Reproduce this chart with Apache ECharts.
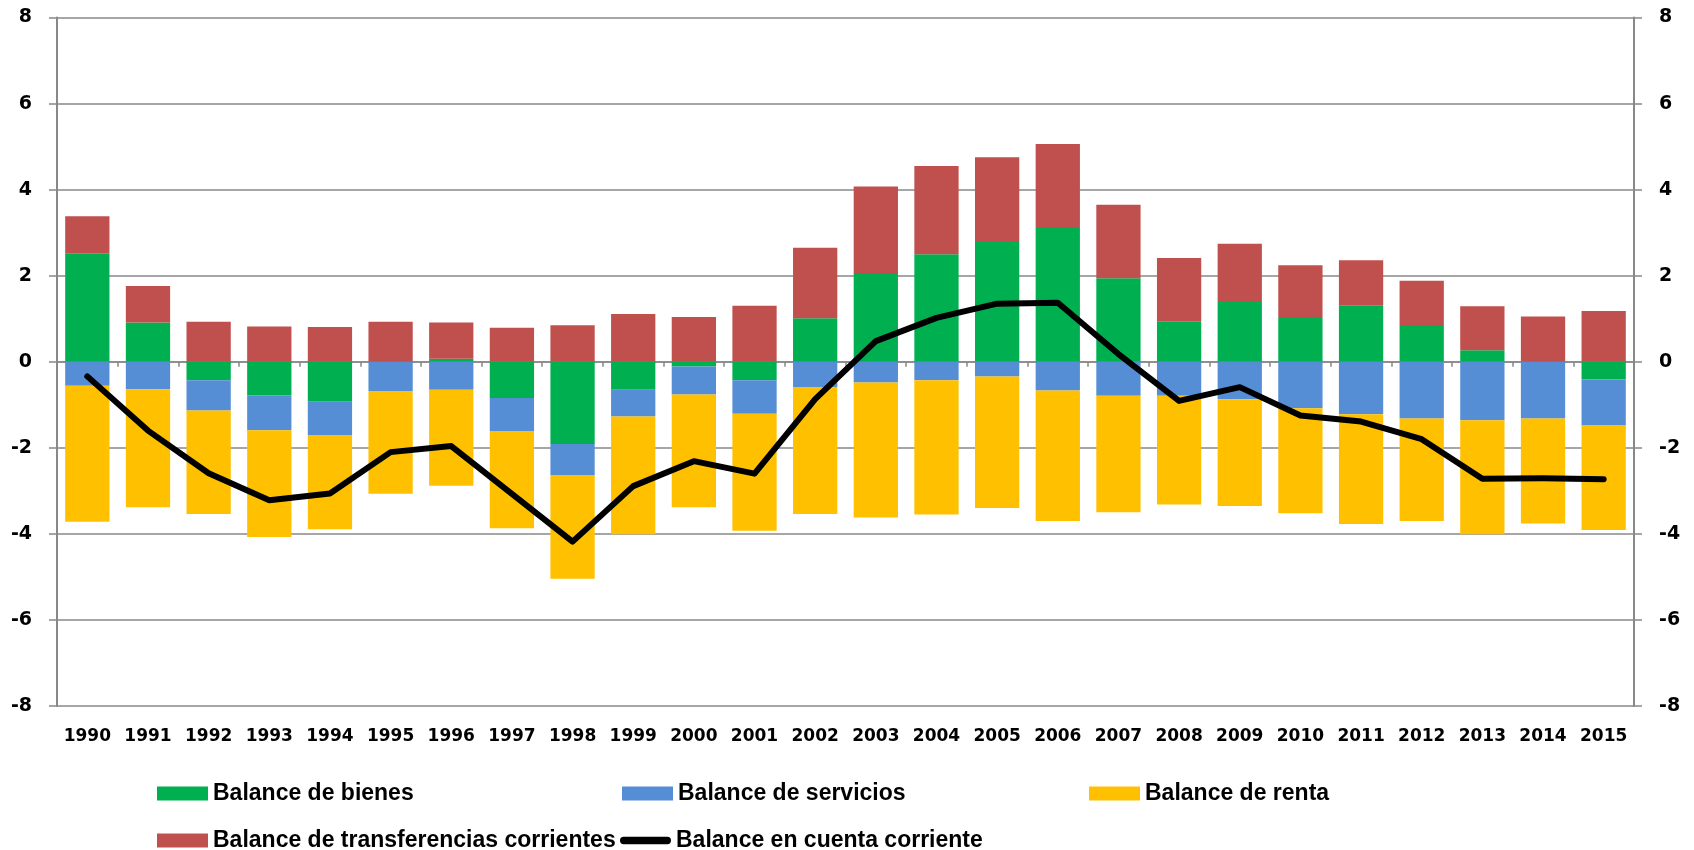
<!DOCTYPE html>
<html>
<head>
<meta charset="utf-8">
<script src="https://cdn.jsdelivr.net/npm/echarts@6/dist/echarts.min.js"></script>
<style>
  html, body { margin: 0; padding: 0; background: #fff; }
  #chart { width: 1694px; height: 850px; }
</style>
</head>
<body>
<div id="chart"></div>
<script>
// años
var years = ['1990', '1991', '1992', '1993', '1994', '1995', '1996', '1997', '1998', '1999', '2000', '2001', '2002',
  '2003', '2004', '2005', '2006', '2007', '2008', '2009', '2010', '2011', '2012', '2013', '2014', '2015'];

var bienes = [2.51, 0.91, -0.43, -0.78, -0.93, 0, 0.07, -0.84, -1.91, -0.65, -0.11, -0.43, 1.01,
  2.06, 2.50, 2.78, 3.11, 1.94, 0.93, 1.39, 1.04, 1.30, 0.83, 0.27, 0, -0.41];
var servicios = [-0.56, -0.64, -0.70, -0.81, -0.77, -0.68, -0.65, -0.77, -0.72, -0.62, -0.65, -0.78, -0.60,
  -0.48, -0.43, -0.34, -0.67, -0.79, -0.79, -0.87, -1.08, -1.22, -1.32, -1.36, -1.32, -1.07];
var renta = [-3.16, -2.74, -2.41, -2.48, -2.19, -2.39, -2.23, -2.26, -2.41, -2.74, -2.62, -2.72, -2.94,
  -3.14, -3.12, -3.06, -3.03, -2.71, -2.53, -2.48, -2.44, -2.55, -2.38, -2.65, -2.44, -2.43];
var transferencias = [0.87, 0.85, 0.93, 0.82, 0.81, 0.93, 0.84, 0.79, 0.85, 1.11, 1.04, 1.30, 1.64,
  2.01, 2.05, 1.97, 1.95, 1.71, 1.48, 1.35, 1.20, 1.06, 1.05, 1.02, 1.05, 1.18];
var cuentaCorriente = [-0.34, -1.60, -2.59, -3.22, -3.06, -2.10, -1.96, -3.07, -4.18, -2.89, -2.31, -2.60, -0.87,
  0.48, 1.02, 1.35, 1.37, 0.18, -0.91, -0.59, -1.25, -1.39, -1.80, -2.72, -2.71, -2.73];

var yTicks = { min: -8, max: 8, interval: 2 };

var chart = echarts.init(document.getElementById('chart'));

var xFont = { fontFamily: 'DejaVu Sans', fontWeight: 'bold', fontSize: 17, color: '#000' };
var yFont = { fontFamily: 'DejaVu Sans', fontWeight: 'bold', fontSize: 19, color: '#000' };
var legendFont = { fontFamily: 'Liberation Sans', fontWeight: 'bold', fontSize: 23, color: '#000' };
var gridLine = { lineStyle: { color: '#888', width: 1.5 } };

function yAxis(pos) {
  return {
    type: 'value', position: pos,
    min: yTicks.min, max: yTicks.max, interval: yTicks.interval,
    axisLine: { show: true, lineStyle: { color: '#888', width: 2 } },
    axisTick: { show: true, length: 8, lineStyle: { color: '#888', width: 1.5 } },
    axisLabel: Object.assign({ margin: 25 }, yFont),
    splitLine: Object.assign({ show: pos === 'left' }, gridLine)
  };
}

function barSerie(name, data, color) {
  return {
    name: name, type: 'bar', stack: 'total', data: data,
    barCategoryGap: '27%',
    itemStyle: { color: color },
    xAxisIndex: 0, yAxisIndex: 0
  };
}

function legendItem(name, left, top, icon) {
  return {
    left: left, top: top, icon: icon || 'rect', itemWidth: 51, itemHeight: 14, itemGap: 4,
    textStyle: legendFont, data: [name]
  };
}

var option = {
  animation: false,
  grid: { left: 57, right: 60, top: 17.5, bottom: 144 },
  legend: [
    legendItem('Balance de bienes', 152, 777),
    legendItem('Balance de servicios', 617, 777),
    legendItem('Balance de renta', 1084, 777),
    legendItem('Balance de transferencias corrientes', 152, 824),
    legendItem('Balance en cuenta corriente', 615, 824, 'path://M4,0H52A4,4 0 0 1 52,8H4A4,4 0 0 1 4,0Z')
  ],
  xAxis: [
    {
      type: 'category', data: years, position: 'bottom',
      axisLine: { show: false, onZero: false }, axisTick: { show: false },
      axisLabel: Object.assign({ margin: 22, interval: 0 }, xFont)
    },
    {
      type: 'category', data: years, position: 'bottom',
      axisLine: { show: true, onZero: true, lineStyle: { color: '#888', width: 1.5 } },
      axisTick: { show: true, length: 5, lineStyle: { color: '#888', width: 1.5 } },
      axisLabel: { show: false }
    }
  ],
  yAxis: [yAxis('left'), yAxis('right')],
  series: [
    barSerie('Balance de bienes', bienes, '#00B050'),
    barSerie('Balance de servicios', servicios, '#558ED5'),
    barSerie('Balance de renta', renta, '#FFC000'),
    barSerie('Balance de transferencias corrientes', transferencias, '#C0504D'),
    {
      name: 'Balance en cuenta corriente', type: 'line', data: cuentaCorriente,
      xAxisIndex: 0, yAxisIndex: 0, symbol: 'none', z: 5,
      itemStyle: { color: '#000' },
      lineStyle: { color: '#000', width: 6, cap: 'round', join: 'round' }
    }
  ]
};

chart.setOption(option);
</script>
</body>
</html>
